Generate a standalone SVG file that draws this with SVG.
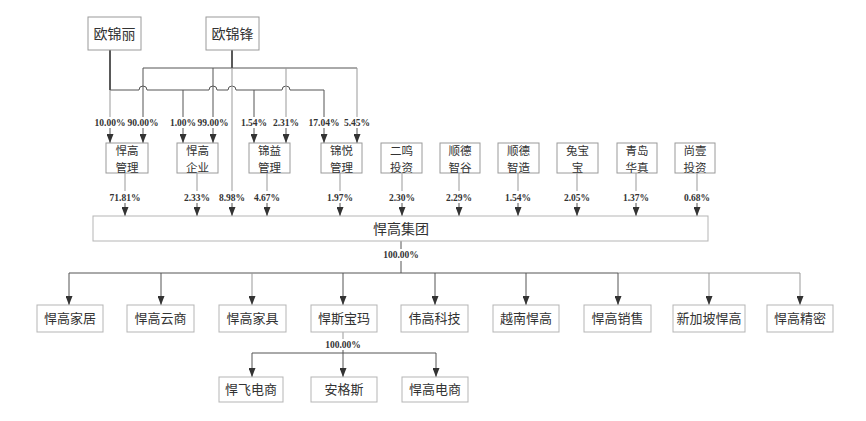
<svg xmlns="http://www.w3.org/2000/svg" width="866" height="421" viewBox="0 0 866 421">
<defs>
<style>
.box{fill:#fff;stroke:#9a9a9a;stroke-width:1}
.lbox{fill:#fff;stroke:#b5b5b5;stroke-width:1}
.t{font-family:"Noto Sans CJK SC","Noto Sans",sans-serif;font-size:13px;fill:#333;text-anchor:middle}
.t2{font-family:"Noto Sans CJK SC","Noto Sans",sans-serif;font-size:11.5px;fill:#333;text-anchor:middle}
.tb{font-family:"Noto Sans CJK SC","Noto Sans",sans-serif;font-size:14px;fill:#333;text-anchor:middle}
.p{font-family:"Liberation Serif",serif;font-size:9.5px;font-weight:bold;fill:#333;text-anchor:middle}
.c{fill:none;stroke:#555;stroke-width:1}
.cl{fill:none;stroke:#999;stroke-width:1}
.s{fill:none;stroke:#222;stroke-width:1.5}
</style>
<marker id="ah" markerWidth="9" markerHeight="7" refX="9" refY="3.5" orient="auto" markerUnits="userSpaceOnUse" viewBox="0 0 9 7">
<path d="M0,0 L9,3.5 L0,7 z" fill="#333"/>
</marker>
</defs>
<rect width="866" height="421" fill="#fff"/>

<g id="connectors">
<path class="s" d="M110,50 V90"/>
<path class="s" d="M232,50 V68"/>
<path class="c" d="M143,68 H357"/>
<path class="c" d="M110,90 H139 a4,4 0 0 1 8,0 H209 a4,4 0 0 1 8,0 H228 a4,4 0 0 1 8,0 H282 a4,4 0 0 1 8,0 H324"/>
<path class="cl" d="M110,90 V117"/>
<path class="c" d="M143,68 V117"/>
<path class="c" d="M183,90 V117"/>
<path class="c" d="M213,68 V117"/>
<path class="c" d="M254,90 V117"/>
<path class="cl" d="M286,68 V117"/>
<path class="c" d="M324,90 V117"/>
<path class="cl" d="M357,68 V117"/>
<path class="cl" d="M232,68 V191"/>
<path class="c" d="M110,128 V143" marker-end="url(#ah)"/>
<path class="c" d="M143,128 V143" marker-end="url(#ah)"/>
<path class="c" d="M183,128 V143" marker-end="url(#ah)"/>
<path class="c" d="M213,128 V143" marker-end="url(#ah)"/>
<path class="c" d="M254,128 V143" marker-end="url(#ah)"/>
<path class="c" d="M286,128 V143" marker-end="url(#ah)"/>
<path class="c" d="M324,128 V143" marker-end="url(#ah)"/>
<path class="c" d="M357,128 V143" marker-end="url(#ah)"/>
<path class="cl" d="M125,173 V191"/>
<path class="cl" d="M197,173 V191"/>
<path class="cl" d="M267,173 V191"/>
<path class="cl" d="M340,173 V191"/>
<path class="cl" d="M402,173 V191"/>
<path class="cl" d="M459,173 V191"/>
<path class="cl" d="M518,173 V191"/>
<path class="cl" d="M577,173 V191"/>
<path class="cl" d="M636,173 V191"/>
<path class="cl" d="M697,173 V191"/>
<path class="c" d="M125,203 V216" marker-end="url(#ah)"/>
<path class="c" d="M197,203 V216" marker-end="url(#ah)"/>
<path class="c" d="M232,203 V216" marker-end="url(#ah)"/>
<path class="c" d="M267,203 V216" marker-end="url(#ah)"/>
<path class="c" d="M340,203 V216" marker-end="url(#ah)"/>
<path class="c" d="M402,203 V216" marker-end="url(#ah)"/>
<path class="c" d="M459,203 V216" marker-end="url(#ah)"/>
<path class="c" d="M518,203 V216" marker-end="url(#ah)"/>
<path class="c" d="M577,203 V216" marker-end="url(#ah)"/>
<path class="c" d="M636,203 V216" marker-end="url(#ah)"/>
<path class="c" d="M697,203 V216" marker-end="url(#ah)"/>
<path class="c" d="M401,241 V249"/>
<path class="c" d="M401,261 V273"/>
<path class="c" d="M69,273 H618"/>
<path class="cl" d="M618,273 H800"/>
<path class="c" d="M69,273 V305" marker-end="url(#ah)"/>
<path class="c" d="M161,273 V305" marker-end="url(#ah)"/>
<path class="cl" d="M252,273 V305" marker-end="url(#ah)"/>
<path class="c" d="M343,273 V305" marker-end="url(#ah)"/>
<path class="c" d="M435,273 V305" marker-end="url(#ah)"/>
<path class="c" d="M526,273 V305" marker-end="url(#ah)"/>
<path class="c" d="M618,273 V305" marker-end="url(#ah)"/>
<path class="cl" d="M709,273 V305" marker-end="url(#ah)"/>
<path class="cl" d="M800,273 V305" marker-end="url(#ah)"/>
<path class="cl" d="M343,332 V339"/>
<path class="c" d="M343,350 V353"/>
<path class="c" d="M252,353 H436"/>
<path class="c" d="M252,353 V377" marker-end="url(#ah)"/>
<path class="c" d="M343,353 V377" marker-end="url(#ah)"/>
<path class="c" d="M436,353 V377" marker-end="url(#ah)"/>
</g>

<g id="labels">
<text class="p" x="110" y="126">10.00%</text>
<text class="p" x="143" y="126">90.00%</text>
<text class="p" x="183" y="126">1.00%</text>
<text class="p" x="213" y="126">99.00%</text>
<text class="p" x="254" y="126">1.54%</text>
<text class="p" x="286" y="126">2.31%</text>
<text class="p" x="324" y="126">17.04%</text>
<text class="p" x="357" y="126">5.45%</text>
<text class="p" x="125" y="201">71.81%</text>
<text class="p" x="197" y="201">2.33%</text>
<text class="p" x="232" y="201">8.98%</text>
<text class="p" x="267" y="201">4.67%</text>
<text class="p" x="340" y="201">1.97%</text>
<text class="p" x="402" y="201">2.30%</text>
<text class="p" x="459" y="201">2.29%</text>
<text class="p" x="518" y="201">1.54%</text>
<text class="p" x="577" y="201">2.05%</text>
<text class="p" x="636" y="201">1.37%</text>
<text class="p" x="697" y="201">0.68%</text>
<text class="p" x="401" y="258">100.00%</text>
<text class="p" x="343" y="348">100.00%</text>
</g>

<g id="n-oujinli"><rect class="box" x="88" y="17" width="53" height="33"/><text class="tb" x="114.5" y="39">欧锦丽</text></g>
<g id="n-oujinfeng"><rect class="box" x="206" y="17" width="53" height="33"/><text class="tb" x="232.5" y="39">欧锦锋</text></g>

<g id="n-hgguanli"><rect class="box" x="106" y="143" width="42" height="30"/><text class="t2" x="127" y="155">悍高<tspan x="127" dy="16.8">管理</tspan></text></g>
<g id="n-hgqiye"><rect class="box" x="177" y="143" width="41" height="30"/><text class="t2" x="197.5" y="155">悍高<tspan x="197.5" dy="16.8">企业</tspan></text></g>
<g id="n-jinyi"><rect class="box" x="249" y="143" width="41" height="30"/><text class="t2" x="269.5" y="155">锦益<tspan x="269.5" dy="16.8">管理</tspan></text></g>
<g id="n-jinyue"><rect class="box" x="321" y="143" width="41" height="30"/><text class="t2" x="341.5" y="155">锦悦<tspan x="341.5" dy="16.8">管理</tspan></text></g>
<g id="n-erming"><rect class="box" x="381" y="143" width="41" height="30"/><text class="t2" x="401.5" y="155">二鸣<tspan x="401.5" dy="16.8">投资</tspan></text></g>
<g id="n-sdzhigu"><rect class="box" x="440" y="143" width="40" height="30"/><text class="t2" x="460" y="155">顺德<tspan x="460" dy="16.8">智谷</tspan></text></g>
<g id="n-sdzhizao"><rect class="box" x="498" y="143" width="41" height="30"/><text class="t2" x="518.5" y="155">顺德<tspan x="518.5" dy="16.8">智造</tspan></text></g>
<g id="n-tubaobao"><rect class="box" x="557" y="143" width="41" height="30"/><text class="t2" x="577.5" y="155">兔宝<tspan x="577.5" dy="16.8">宝</tspan></text></g>
<g id="n-qdhuazhen"><rect class="box" x="617" y="143" width="40" height="30"/><text class="t2" x="637" y="155">青岛<tspan x="637" dy="16.8">华真</tspan></text></g>
<g id="n-shangyi"><rect class="box" x="675" y="143" width="40" height="30"/><text class="t2" x="695" y="155">尚壹<tspan x="695" dy="16.8">投资</tspan></text></g>

<g id="n-group"><rect class="lbox" x="93" y="216" width="615" height="25"/><text class="tb" x="401" y="234">悍高集团</text></g>

<g id="n-jiaju"><rect class="lbox" x="37" y="305" width="66" height="27"/><text class="t" x="70" y="323">悍高家居</text></g>
<g id="n-yunshang"><rect class="lbox" x="127" y="305" width="67" height="27"/><text class="t" x="160.5" y="323">悍高云商</text></g>
<g id="n-jiaju2"><rect class="lbox" x="219" y="305" width="67" height="27"/><text class="t" x="252.5" y="323">悍高家具</text></g>
<g id="n-hsbm"><rect class="lbox" x="311" y="305" width="66" height="27"/><text class="t" x="344" y="323">悍斯宝玛</text></g>
<g id="n-wgkj"><rect class="lbox" x="401" y="305" width="67" height="27"/><text class="t" x="434.5" y="323">伟高科技</text></g>
<g id="n-ynhg"><rect class="lbox" x="493" y="305" width="66" height="27"/><text class="t" x="526" y="323">越南悍高</text></g>
<g id="n-hgxs"><rect class="lbox" x="584" y="305" width="67" height="27"/><text class="t" x="617.5" y="323">悍高销售</text></g>
<g id="n-xjphg"><rect class="lbox" x="673" y="305" width="72" height="27"/><text class="t" x="709" y="323">新加坡悍高</text></g>
<g id="n-hgjm"><rect class="lbox" x="767" y="305" width="66" height="27"/><text class="t" x="800" y="323">悍高精密</text></g>

<g id="n-hfds"><rect class="lbox" x="219" y="377" width="64" height="25"/><text class="t" x="251" y="394">悍飞电商</text></g>
<g id="n-ags"><rect class="lbox" x="311" y="377" width="66" height="25"/><text class="t" x="344" y="394">安格斯</text></g>
<g id="n-hgds"><rect class="lbox" x="402" y="377" width="66" height="25"/><text class="t" x="435" y="394">悍高电商</text></g>
</svg>
